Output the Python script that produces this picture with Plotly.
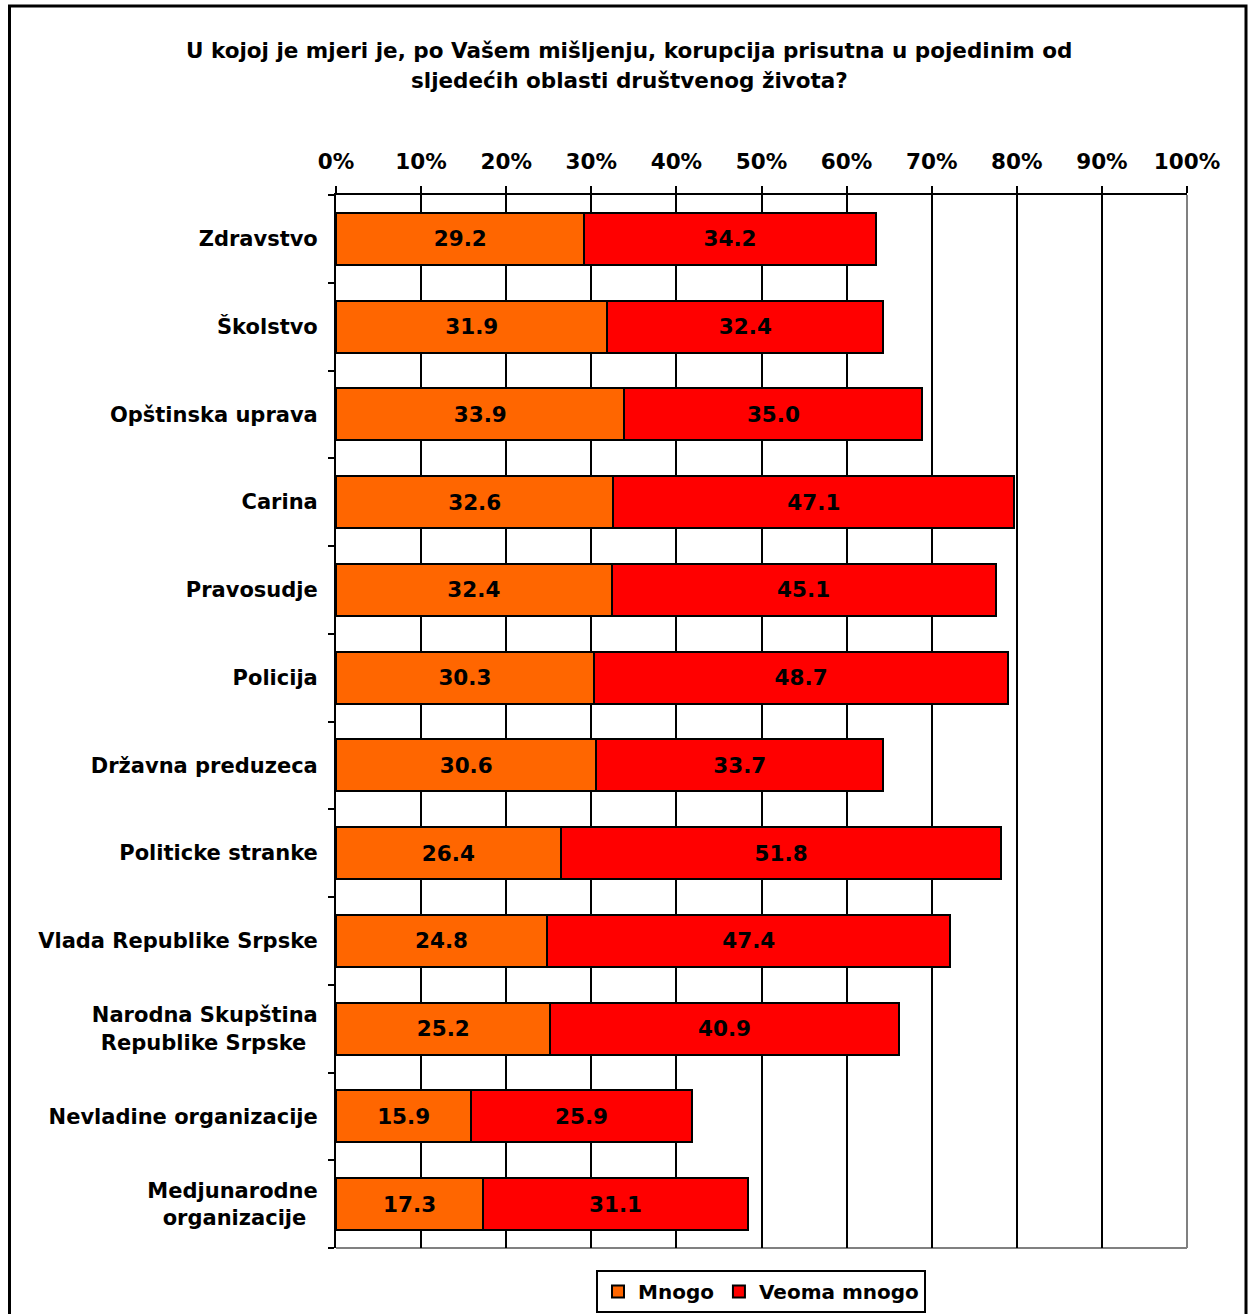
import plotly.graph_objects as go

categories = ["Zdravstvo", "Školstvo", "Opštinska uprava", "Carina", "Pravosudje",
              "Policija", "Državna preduzeca", "Politicke stranke",
              "Vlada Republike Srpske", "Narodna Skupština<br>Republike Srpske \u2009",
              "Nevladine organizacije", "Medjunarodne<br>organizacije \u2009"]
mnogo = [29.2, 31.9, 33.9, 32.6, 32.4, 30.3, 30.6, 26.4, 24.8, 25.2, 15.9, 17.3]
veoma_mnogo = [34.2, 32.4, 35.0, 47.1, 45.1, 48.7, 33.7, 51.8, 47.4, 40.9, 25.9, 31.1]
tick_vals = [0, 10, 20, 30, 40, 50, 60, 70, 80, 90, 100]
tick_text = [f"{v}%" for v in tick_vals]
title_lines = ["U kojoj je mjeri je, po Vašem mišljenju, korupcija prisutna u pojedinim od",
               "sljedećih oblasti društvenog života?"]

W, H = 1249, 1314
ML, MR, MT, MB = 336, 62, 195, 66
PW, PH = W - ML - MR, H - MT - MB

def px_x(p):
    return (p - ML) / PW

def px_y(p):
    return (H - MB - p) / PH

font_main = "DejaVu Sans, Verdana, sans-serif"

fig = go.Figure()
fig.add_trace(go.Bar(
    y=categories, x=mnogo, orientation="h", name="<b>Mnogo</b>",
    marker=dict(color="#FF6600", line=dict(color="black", width=2)),
    texttemplate="<b>%{x:.1f}</b>", textposition="inside", insidetextanchor="middle",
    textfont=dict(family=font_main, size=21.5, color="black"),
))
fig.add_trace(go.Bar(
    y=categories, x=veoma_mnogo, orientation="h", name="<b>Veoma mnogo</b>",
    marker=dict(color="#FF0000", line=dict(color="black", width=2)),
    texttemplate="<b>%{x:.1f}</b>", textposition="inside", insidetextanchor="middle",
    textfont=dict(family=font_main, size=21.5, color="black"),
))

fig.update_layout(
    width=W, height=H,
    barmode="stack", bargap=0.41,
    plot_bgcolor="white", paper_bgcolor="white",
    margin=dict(l=ML, r=MR, t=MT, b=MB, autoexpand=False),
    showlegend=True,
    legend=dict(orientation="h", xref="container", yref="container",
                x=761 / W, xanchor="center", y=(H - 1270) / H, yanchor="top",
                bordercolor="black", borderwidth=2, bgcolor="white",
                font=dict(family=font_main, size=20, color="black"),
                itemwidth=30, traceorder="normal", tracegroupgap=0),
    font=dict(family=font_main, color="black"),
    xaxis=dict(range=[0, 100], side="top", tickvals=tick_vals, ticktext=[f"<b>{t}</b>" for t in tick_text],
               tickfont=dict(family=font_main, size=21.5, color="black"),
               showgrid=True, gridcolor="black", gridwidth=2,
               showline=True, linecolor="black", linewidth=2,
               ticks="outside", ticklen=7, tickwidth=2, tickcolor="black",
               ticklabelstandoff=8,
               zeroline=False, fixedrange=True),
    yaxis=dict(autorange="reversed", type="category",
               tickvals=categories, ticktext=[f"<b>{c}</b>" for c in categories],
               tickfont=dict(family=font_main, size=21, color="black"),
               showline=True, linecolor="black", linewidth=2,
               ticks="outside", tickson="boundaries", ticklen=6, tickwidth=2, tickcolor="black",
               ticklabelstandoff=12, showgrid=False, fixedrange=True),
)

for line_text, ypx in zip(title_lines, [50, 80]):
    fig.add_annotation(
        text=f"<b>{line_text}</b>",
        xref="paper", yref="paper", x=px_x(629), y=px_y(ypx), xanchor="center", yanchor="middle",
        showarrow=False, align="center",
        font=dict(family=font_main, size=21.5, color="black"),
    )

# plot area right and bottom edges (grey)
fig.add_shape(type="line", xref="paper", yref="paper", x0=1, x1=1, y0=0, y1=1,
              line=dict(color="#808080", width=2), layer="below")
fig.add_shape(type="line", xref="paper", yref="paper", x0=0, x1=1, y0=0, y1=0,
              line=dict(color="#808080", width=2), layer="below")

# outer chart border
fig.add_shape(type="rect", xref="paper", yref="paper",
              x0=px_x(9.5), x1=px_x(1246), y0=px_y(1330), y1=px_y(6),
              line=dict(color="black", width=3), fillcolor="rgba(0,0,0,0)", layer="below")

fig.write_html("out.html", config={"displayModeBar": False},
               post_script="document.body.style.margin='0px';")
